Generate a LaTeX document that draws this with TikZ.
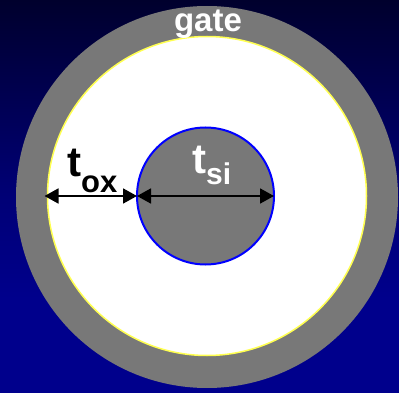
\documentclass[tikz,border=0pt]{standalone}
\usepackage{fontspec}
\setmainfont{Liberation Sans}
\usetikzlibrary{arrows.meta}
\definecolor{bgtop}{RGB}{0,0,45}
\definecolor{bgmid}{RGB}{0,0,118}
\definecolor{bgbot}{RGB}{0,0,140}
\definecolor{gategray}{RGB}{120,120,120}
\pgfdeclareverticalshading{bgshade}{100bp}{color(0bp)=(bgbot); color(25bp)=(bgbot); color(37bp)=(bgbot); color(50bp)=(bgmid); color(75bp)=(bgtop); color(100bp)=(bgtop)}
\tikzset{
  disk/.style={circle, inner sep=0pt, outer sep=0pt},
  dim/.style={line width=1.8pt, black, {Triangle[length=14pt,width=15pt]}-{Triangle[length=14pt,width=15pt]}},
  lbl/.style={inner sep=0pt, font=\bfseries},
}
\begin{document}
\begin{tikzpicture}[x=1pt,y=-1pt]
\useasboundingbox (0,0) rectangle (399,393);
\shade[shading=bgshade] (0,0) rectangle (399,393);
\node[disk, fill=gategray, minimum size=382pt] (gate) at (207,197) {};
\node[disk, fill=white, draw={rgb,255:red,255;green,255;blue,80}, line width=1.5pt, minimum size=319pt] (ox) at (207,196) {};
\node[disk, fill=gategray, draw={rgb,255:red,0;green,0;blue,255}, line width=2pt, minimum size=137pt] (si) at (205.5,196) {};
\draw[dim] ([xshift=-3pt]ox.west) -- (si.west);
\draw[dim] (si.west) -- (si.east);
\node[lbl, white, anchor=base] (gatelbl) at (208,32) {\fontsize{33}{33}\selectfont gate};
\node[lbl, black, anchor=base west] (toxlbl) at (67,177) {\fontsize{42}{42}\selectfont t\raisebox{-16pt}{\fontsize{31}{31}\selectfont ox}};
\node[lbl, white, anchor=base west] (tsilbl) at (192,173) {\fontsize{42}{42}\selectfont t\raisebox{-11pt}{\fontsize{30}{30}\selectfont si}};
\end{tikzpicture}
\end{document}
